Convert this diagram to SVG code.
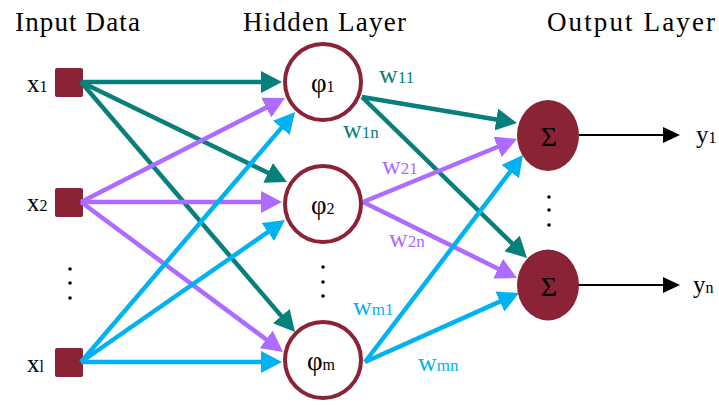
<svg xmlns="http://www.w3.org/2000/svg" width="719" height="405" viewBox="0 0 719 405">
<style>
text{font-family:"Liberation Serif","Times New Roman",serif;fill:#000}
.h{font-size:27px}
.lbl{font-size:25px}
.phi{font-size:27px}
.sig{font-size:28px}
.sub{font-size:16px}
.w{font-size:26px}
.ws{font-size:17px}
.t{stroke:#077f7a;stroke-width:4.5;fill:none}
.p{stroke:#ad6bff;stroke-width:4.5;fill:none}
.b{stroke:#00b2f0;stroke-width:4.5;fill:none}
.k{stroke:#000;stroke-width:2;fill:none}
.in{fill:#8b2336}
.hid{fill:#fff;stroke:#8b2336;stroke-width:4}
.out{fill:#8b2336}
.dot{fill:#000}
</style>
<defs>
<marker id="at" markerUnits="userSpaceOnUse" markerWidth="22" markerHeight="22" refX="9" refY="11" orient="auto"><path d="M0,0 L21,11 L0,22 z" fill="#077f7a"/></marker>
<marker id="ap" markerUnits="userSpaceOnUse" markerWidth="22" markerHeight="22" refX="9" refY="11" orient="auto"><path d="M0,0 L21,11 L0,22 z" fill="#ad6bff"/></marker>
<marker id="ab" markerUnits="userSpaceOnUse" markerWidth="22" markerHeight="22" refX="9" refY="11" orient="auto"><path d="M0,0 L21,11 L0,22 z" fill="#00b2f0"/></marker>
<marker id="ak" markerUnits="userSpaceOnUse" markerWidth="17" markerHeight="16" refX="5" refY="8" orient="auto"><path d="M0,0 L17,8 L0,16 z" fill="#000"/></marker>
</defs>
<rect width="719" height="405" fill="#fff"/>
<text class="h" x="15" y="31" textLength="125">Input Data</text>
<text class="h" x="243" y="31" textLength="163">Hidden Layer</text>
<text class="h" x="547" y="31" textLength="168">Output Layer</text>
<g id="in1"><rect class="in" x="55" y="68" width="28" height="29" rx="2"/><text class="lbl" x="27" y="92">x<tspan class="sub">1</tspan></text></g>
<g id="in2"><rect class="in" x="55" y="188" width="28" height="29" rx="2"/><text class="lbl" x="27" y="211">x<tspan class="sub">2</tspan></text></g>
<g id="inl"><rect class="in" x="55" y="348" width="28" height="29" rx="2"/><text class="lbl" x="27" y="372">x<tspan class="sub">l</tspan></text></g>
<g id="indots"><circle class="dot" cx="70" cy="269" r="1.8"/><circle class="dot" cx="70" cy="283" r="1.8"/><circle class="dot" cx="70" cy="298" r="1.8"/></g>
<g id="connectors">
<line class="t" x1="81" y1="82" x2="270" y2="82" marker-end="url(#at)"/>
<line class="t" x1="81" y1="82" x2="276.2" y2="176.8" marker-end="url(#at)"/>
<line class="t" x1="81" y1="82" x2="287.2" y2="322.9" marker-end="url(#at)"/>
<line class="t" x1="362" y1="97" x2="505.2" y2="121" marker-end="url(#at)"/>
<line class="t" x1="362" y1="97" x2="518.4" y2="249.6" marker-end="url(#at)"/>
<line class="p" x1="81" y1="202" x2="274.3" y2="103.5" marker-end="url(#ap)"/>
<line class="p" x1="81" y1="202" x2="270" y2="202" marker-end="url(#ap)"/>
<line class="p" x1="81" y1="202" x2="273.4" y2="344.8" marker-end="url(#ap)"/>
<line class="p" x1="363" y1="202" x2="505.9" y2="143.5" marker-end="url(#ap)"/>
<line class="p" x1="363" y1="202" x2="506.2" y2="272.7" marker-end="url(#ap)"/>
<line class="b" x1="81" y1="362" x2="287.2" y2="121.1" marker-end="url(#ab)"/>
<line class="b" x1="81" y1="362" x2="275.2" y2="226.9" marker-end="url(#ab)"/>
<line class="b" x1="81" y1="362" x2="270" y2="362" marker-end="url(#ab)"/>
<line class="b" x1="365" y1="362" x2="515.7" y2="164.5" marker-end="url(#ab)"/>
<line class="b" x1="365" y1="362" x2="508.1" y2="297.9" marker-end="url(#ab)"/>
<line class="k" x1="579" y1="135" x2="668" y2="135" marker-end="url(#ak)"/>
<line class="k" x1="579" y1="285" x2="668" y2="285" marker-end="url(#ak)"/>
</g>
<g id="wlabels">
<text class="w" x="379" y="83" style="fill:#077f7a">w<tspan class="ws">11</tspan></text>
<text class="w" x="343" y="138" style="fill:#077f7a">w<tspan class="ws">1n</tspan></text>
<text class="w" x="382" y="174" style="fill:#ad6bff">w<tspan class="ws">21</tspan></text>
<text class="w" x="389" y="247" style="fill:#ad6bff">w<tspan class="ws">2n</tspan></text>
<text class="w" x="353" y="315" style="fill:#00b2f0">w<tspan class="ws">m1</tspan></text>
<text class="w" x="418" y="371" style="fill:#00b2f0">w<tspan class="ws">mn</tspan></text>
</g>
<g id="h1"><circle class="hid" cx="323" cy="82" r="38"/><text class="phi" x="311" y="92">φ<tspan class="sub">1</tspan></text></g>
<g id="h2"><circle class="hid" cx="323" cy="204" r="38"/><text class="phi" x="311" y="214">φ<tspan class="sub">2</tspan></text></g>
<g id="hm"><circle class="hid" cx="323" cy="360" r="38"/><text class="phi" x="307" y="370">φ<tspan class="sub">m</tspan></text></g>
<g id="hdots"><circle class="dot" cx="323" cy="267" r="1.8"/><circle class="dot" cx="323" cy="282" r="1.8"/><circle class="dot" cx="323" cy="296" r="1.8"/></g>
<g id="o1"><ellipse class="out" cx="548" cy="135.5" rx="31" ry="35.5"/><text class="sig" x="549" y="146" text-anchor="middle">Σ</text></g>
<g id="o2"><ellipse class="out" cx="548" cy="285" rx="31" ry="35.5"/><text class="sig" x="549" y="296" text-anchor="middle">Σ</text></g>
<g id="odots"><circle class="dot" cx="549" cy="197" r="1.8"/><circle class="dot" cx="549" cy="210" r="1.8"/><circle class="dot" cx="549" cy="225" r="1.8"/></g>
<g id="y1"><text class="lbl" x="696" y="143">y<tspan class="sub">1</tspan></text></g>
<g id="yn"><text class="lbl" x="693" y="293">y<tspan class="sub">n</tspan></text></g>
</svg>
